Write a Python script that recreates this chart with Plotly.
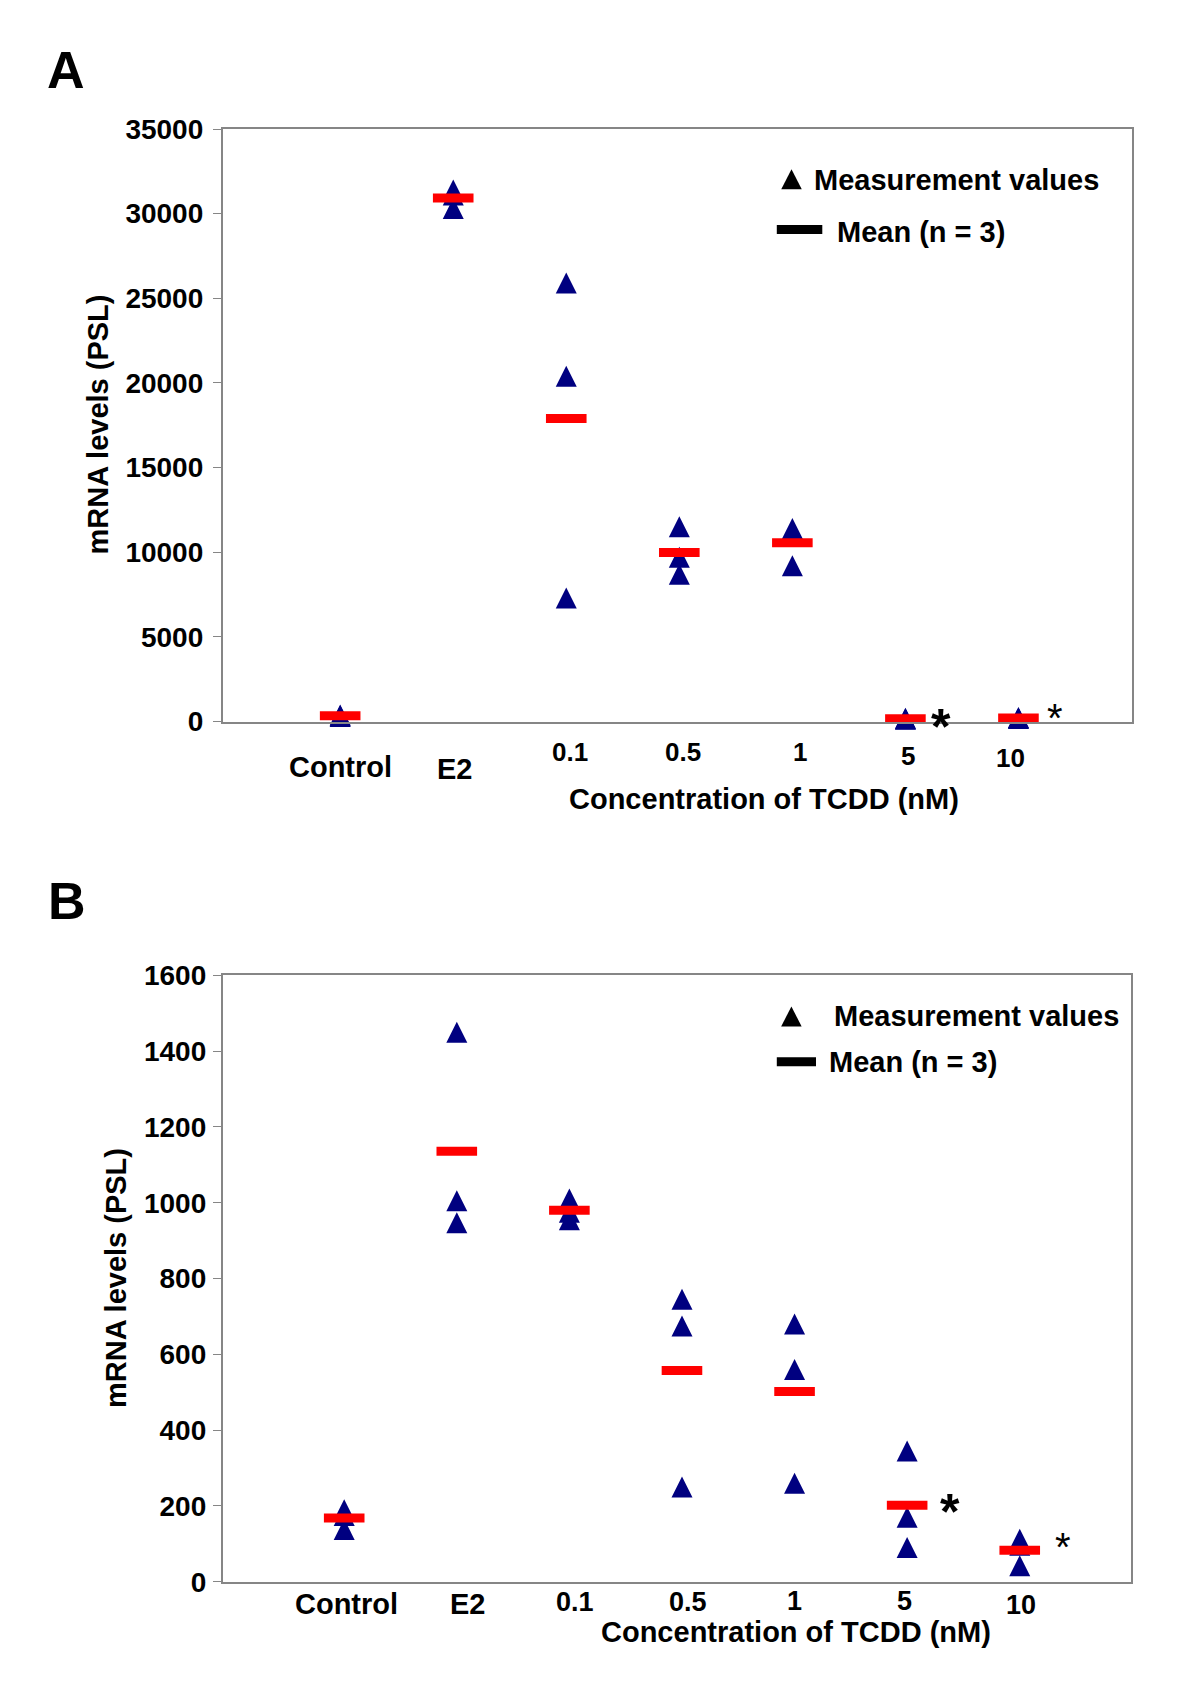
import plotly.graph_objects as go

# ---------------- data ----------------
categories = ["Control", "E2", "0.1", "0.5", "1", "5", "10"]
tick_labels = ["Control", "E2", "0.1", "0.5", "1", "5", "10"]
x_title = "Concentration of TCDD (nM)"
y_title = "mRNA levels (PSL)"
legend_labels = ["Measurement values", "Mean (n = 3)"]
signif_categories = ["5", "10"]

# Panel A: three measurements per group and group means
a_rep1 = [300, 31400, 25900, 11500, 11400, 130, 180]
a_rep2 = [340, 30300, 20400, 9700, 11100, 160, 210]
a_rep3 = [380, 31100, 7300, 8700, 9200, 185, 243]
a_mean = [340, 30920, 17900, 9980, 10560, 158, 211]
a_yticks = [0, 5000, 10000, 15000, 20000, 25000, 30000, 35000]

# Panel B
b_rep1 = [190, 1450, 1010, 745, 680, 345, 112]
b_rep2 = [175, 1005, 975, 675, 560, 170, 96]
b_rep3 = [138, 947, 955, 250, 260, 90, 42]
b_mean = [168, 1136, 980, 557, 502, 202, 83]
b_yticks = [0, 200, 400, 600, 800, 1000, 1200, 1400, 1600]

# ---------------- style ----------------
W, H = 1200, 1686
FONT = "Liberation Sans, Arial, sans-serif"
NAVY = "#000080"
RED = "#FF0000"
AXC = "#868686"
TRI = 21
TXT = 29


def px(x):
    return x / W


def py(y):
    return 1 - y / H


panels = [
    dict(letter="A", reps=[a_rep1, a_rep2, a_rep3], mean=a_mean, yticks=a_yticks,
         xa="x", ya="y", xdom=(222.6, 1131.5), ydom=(129, 721.5), xrange=[-1.04, 7.0],
         yrange=[0, 35000], tl_dx=[0, 1, 4, 4, 8, 3, -8], tl_dy=[45, 47.5, 30, 30, 30, 34.5, 36.5],
         tl_size=[29, 29, 26, 26, 26, 26, 26], letter_xy=(65.5, 70), xtitle_xy=(763.5, 799),
         ytitle_xy=(97, 424.5),
         star=[dict(size=50, weight="bold", dx=36, dy=-8), dict(size=40, weight="normal", dx=37, dy=0)],
         leg_tri=(791.5, 179.3), leg_tri_wh=(20.5, 20), leg_t1=(811.5, 179.5),
         leg_line=(776.8, 822.3, 229.5), leg_t2=(834.7, 232), lblgap=4),
    dict(letter="B", reps=[b_rep1, b_rep2, b_rep3], mean=b_mean, yticks=b_yticks,
         xa="x2", ya="y2", xdom=(222.6, 1131.2), ydom=(975.3, 1581.7), xrange=[-1.08, 6.99],
         yrange=[0, 1600], tl_dx=[2, 11, 6, 6, 0, -3, 1], tl_dy=[22.7, 22.7, 20.5, 20.5, 19.4, 19.4, 23.7],
         tl_size=[29, 29, 27, 27, 27, 27, 27], letter_xy=(67, 900.5), xtitle_xy=(795.7, 1632),
         ytitle_xy=(116, 1278),
         star=[dict(size=50, weight="bold", dx=43, dy=-7), dict(size=40, weight="normal", dx=43, dy=3)],
         leg_tri=(791.4, 1016.5), leg_tri_wh=(20.5, 20), leg_t1=(832.4, 1015.8),
         leg_line=(776.8, 816.0, 1061.8), leg_t2=(827.1, 1062), lblgap=1),
]

fig = go.Figure()
annotations = []
shapes = []
layout_axes = {}

for i, p in enumerate(panels):
    xs = categories * len(p["reps"])
    ys = [v for rep in p["reps"] for v in rep]
    fig.add_trace(go.Scatter(
        x=xs, y=ys, xaxis=p["xa"], yaxis=p["ya"], mode="markers", name=legend_labels[0],
        marker=dict(symbol="arrow-down", angle=180, standoff=TRI / 2, size=TRI, color=NAVY,
                    line=dict(width=0)),
        showlegend=False, cliponaxis=False))
    fig.add_trace(go.Scatter(
        x=categories, y=p["mean"], xaxis=p["xa"], yaxis=p["ya"], mode="markers", name=legend_labels[1],
        marker=dict(symbol="line-ew", size=29, color=RED, line=dict(width=9, color=RED)),
        showlegend=False, cliponaxis=False))

    xkey = "xaxis" if i == 0 else "xaxis2"
    ykey = "yaxis" if i == 0 else "yaxis2"
    layout_axes[xkey] = dict(
        domain=[px(p["xdom"][0]), px(p["xdom"][1])], anchor=p["ya"], type="category",
        categoryorder="array", categoryarray=categories, range=p["xrange"], automargin=False,
        showticklabels=False, ticks="", showgrid=False, zeroline=False,
        showline=True, linecolor=AXC, linewidth=1.5, mirror=True)
    layout_axes[ykey] = dict(
        domain=[py(p["ydom"][1]), py(p["ydom"][0])], anchor=p["xa"], range=p["yrange"],
        automargin=False,
        tickvals=p["yticks"], ticktext=[str(v) for v in p["yticks"]],
        ticks="outside", ticklen=8, tickwidth=1, tickcolor=AXC, ticklabelstandoff=p["lblgap"],
        tickfont=dict(size=28, weight="bold", color="black", family=FONT),
        showgrid=False, zeroline=False, showline=True, linecolor=AXC, linewidth=1.5, mirror=True)

    # category labels (staggered as in the original)
    for j, lab in enumerate(tick_labels):
        annotations.append(dict(
            x=j, y=0, xref=p["xa"], yref=p["ya"] + " domain", text=lab,
            showarrow=False, xanchor="center", yanchor="middle",
            xshift=p["tl_dx"][j], yshift=-p["tl_dy"][j],
            font=dict(size=p["tl_size"][j], weight="bold", color="black", family=FONT)))

    # significance marks
    for k, cat in enumerate(signif_categories):
        st = p["star"][k]
        idx = categories.index(cat)
        annotations.append(dict(
            x=idx, y=p["mean"][idx], xref=p["xa"], yref=p["ya"], text="*",
            showarrow=False, xanchor="center", yanchor="middle", xshift=st["dx"], yshift=st["dy"],
            font=dict(size=st["size"], weight=st["weight"], color="black", family=FONT)))

    # axis titles
    annotations.append(dict(
        x=px(p["xtitle_xy"][0]), y=py(p["xtitle_xy"][1]), xref="paper", yref="paper",
        text=x_title, showarrow=False, xanchor="center", yanchor="middle",
        font=dict(size=TXT, weight="bold", color="black", family=FONT)))
    annotations.append(dict(
        x=px(p["ytitle_xy"][0]), y=py(p["ytitle_xy"][1]), xref="paper", yref="paper",
        text=y_title, showarrow=False, xanchor="center", yanchor="middle", textangle=-90,
        font=dict(size=TXT, weight="bold", color="black", family=FONT)))

    # panel letter
    annotations.append(dict(
        x=px(p["letter_xy"][0]), y=py(p["letter_xy"][1]), xref="paper", yref="paper",
        text=p["letter"], showarrow=False, xanchor="center", yanchor="middle",
        font=dict(size=52, weight="bold", color="black", family=FONT)))

    # legend (in-plot key)
    cx, cy = p["leg_tri"]
    tw, th = p["leg_tri_wh"]
    shapes.append(dict(
        type="path", xref="paper", yref="paper", fillcolor="black", line=dict(width=0),
        path=f"M {px(cx)},{py(cy - th / 2)} L {px(cx - tw / 2)},{py(cy + th / 2)} "
             f"L {px(cx + tw / 2)},{py(cy + th / 2)} Z"))
    x0, x1, ly = p["leg_line"]
    shapes.append(dict(type="line", xref="paper", yref="paper", x0=px(x0), x1=px(x1),
                       y0=py(ly), y1=py(ly), line=dict(color="black", width=9)))
    annotations.append(dict(
        x=px(p["leg_t1"][0]), y=py(p["leg_t1"][1]), xref="paper", yref="paper",
        text=legend_labels[0], showarrow=False, xanchor="left", yanchor="middle",
        font=dict(size=TXT, weight="bold", color="black", family=FONT)))
    annotations.append(dict(
        x=px(p["leg_t2"][0]), y=py(p["leg_t2"][1]), xref="paper", yref="paper",
        text=legend_labels[1], showarrow=False, xanchor="left", yanchor="middle",
        font=dict(size=TXT, weight="bold", color="black", family=FONT)))

fig.update_layout(
    width=W, height=H, autosize=False,
    margin=dict(l=0, r=0, t=0, b=0, pad=0, autoexpand=False),
    paper_bgcolor="white", plot_bgcolor="white",
    font=dict(family=FONT, color="black"),
    showlegend=False,
    annotations=annotations, shapes=shapes,
    **layout_axes)

fig.write_html("out.html", config={"displayModeBar": False},
               post_script="document.body.style.margin='0px';")
